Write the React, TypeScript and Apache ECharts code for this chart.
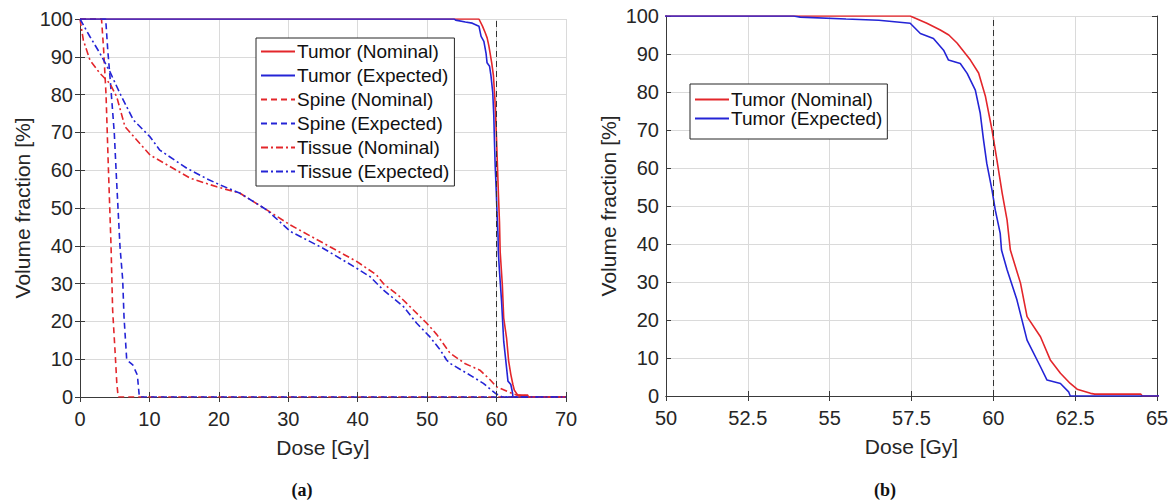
import React, { useEffect, useRef } from "react";
import * as echarts from "echarts";

// ---- Data (dose [Gy], volume fraction [%]) ----
const tumorNominal: number[][] = [
  [0, 100], [57.46, 100], [57.97, 98.1], [58.38, 96.3], [58.64, 95], [58.89, 92.9],
  [59.3, 88.4], [59.55, 85], [59.76, 78.8], [59.96, 70], [60.11, 62.1], [60.27, 53.4],
  [60.42, 46.3], [60.52, 38.4], [60.83, 29.7], [61.03, 20.9], [61.44, 15.6], [61.74, 9.5],
  [62.05, 6], [62.35, 3.3], [62.56, 1.8], [62.97, 0.7], [63.1, 0.5], [64.5, 0.5],
  [64.55, 0], [70, 0],
];
const tumorExpected: number[][] = [
  [0, 100], [53.9, 100], [54.1, 99.7], [55.5, 99.2], [56.5, 98.9], [57.46, 98.1],
  [57.77, 95.4], [58.17, 94.1], [58.48, 91], [58.63, 88.4], [58.99, 87.5], [59.2, 84.9],
  [59.45, 80.5], [59.6, 74.4], [59.7, 67.4], [59.8, 61.2], [59.96, 54.2], [60.06, 48.9],
  [60.21, 42.8], [60.25, 38.4], [60.42, 33.2], [60.72, 25.3], [61.03, 14.7], [61.44, 7.7],
  [61.64, 4.2], [62.05, 3.3], [62.3, 1.1], [62.35, 0], [70, 0],
];
const spineNominal: number[][] = [
  [0, 100], [3.1, 100], [3.4, 92], [3.75, 80], [4.08, 61], [4.47, 40], [4.7, 23],
  [5.04, 12.4], [5.3, 3.7], [5.5, 0], [70, 0],
];
const spineExpected: number[][] = [
  [0, 100], [3.7, 100], [3.99, 92], [4.32, 84.7], [4.94, 69.8], [5.29, 56.5], [5.76, 39.8],
  [6.15, 31], [6.34, 21.2], [6.73, 9.8], [7.6, 8.5], [8.26, 5.8], [8.55, 0], [70, 0],
];
const tissueNominal: number[][] = [
  [0, 100], [0.48, 94.4], [1.44, 89.1], [2.88, 85.6], [4.32, 82.9], [5.29, 79.4],
  [6.48, 71.5], [8.17, 68], [10.1, 64], [13.4, 60.5], [15.85, 57.9], [19.7, 55.6],
  [23.05, 53.9], [26.9, 49.5], [30.3, 45.5], [35.06, 40.7], [39.9, 35.8], [42.7, 32.3],
  [43.7, 30], [46.1, 26.5], [49.95, 19.5], [51.4, 16.5], [53.3, 11.6], [55.5, 8.8],
  [57.6, 7.1], [59.1, 4.5], [60, 2.7], [61.5, 1.5], [62.9, 0.5], [64.4, 0.3], [64.5, 0], [70, 0],
];
const tissueExpected: number[][] = [
  [0, 100], [1.44, 95.3], [2.88, 90.9], [4.32, 86], [5.76, 80.3], [7.68, 73.3],
  [10.1, 68.8], [11.5, 65.3], [15.4, 60.5], [18.3, 57.7], [20.2, 56.1], [23.05, 53.9],
  [26.9, 49.5], [30.3, 43.8], [35.06, 39.3], [39.9, 34], [41.8, 31.8], [43.7, 28.3],
  [46.6, 23.9], [48.5, 19.5], [50.4, 15.9], [51.9, 12.4], [52.8, 9.8], [53.3, 8.9],
  [55.7, 6.3], [58.1, 3.6], [59.8, 1], [60.8, 0], [70, 0],
];

const legendLeft = [
  "Tumor (Nominal)", "Tumor (Expected)", "Spine (Nominal)",
  "Spine (Expected)", "Tissue (Nominal)", "Tissue (Expected)",
];
const legendRight = ["Tumor (Nominal)", "Tumor (Expected)"];

const xRangeLeft = { min: 0, max: 70, interval: 10 };
const xRangeRight = { min: 50, max: 65, interval: 2.5 };
const yRange = { min: 0, max: 100, interval: 10 };
const prescribedDose = 60;

const RED = "#e3262b";
const BLUE = "#2424d6";
const AXIS = "#3a3a3a";
const FONT = "'Liberation Sans', Arial, Helvetica, sans-serif";

export default function App() {
  const ref = useRef<HTMLDivElement>(null);
  useEffect(() => {
    if (!ref.current) return;
    const chart = echarts.init(ref.current, undefined, { renderer: "svg" });

    const mkX = (r: any, gridIndex: number, top: boolean) => ({
      type: "value",
      gridIndex,
      position: top ? "top" : "bottom",
      min: r.min, max: r.max, interval: r.interval,
      name: top ? "" : "Dose [Gy]",
      nameLocation: "middle",
      nameGap: 40,
      nameTextStyle: { fontFamily: FONT, fontSize: 21, color: "#262626" },
      axisLine: { show: true, lineStyle: { color: AXIS, width: 1 } },
      axisTick: { show: true, inside: true, length: 5, lineStyle: { color: AXIS } },
      axisLabel: { show: !top, fontFamily: FONT, fontSize: 20, color: "#262626", margin: 12 },
      splitLine: { show: !top, lineStyle: { color: "#dadada", width: 1 } },
    });
    const mkY = (gridIndex: number, right: boolean) => ({
      type: "value",
      gridIndex,
      position: right ? "right" : "left",
      min: yRange.min, max: yRange.max, interval: yRange.interval,
      name: right ? "" : "Volume fraction [%]",
      nameLocation: "middle",
      nameGap: 47,
      nameTextStyle: { fontFamily: FONT, fontSize: 21, color: "#262626" },
      axisLine: { show: true, lineStyle: { color: AXIS, width: 1 } },
      axisTick: { show: true, inside: true, length: 5, lineStyle: { color: AXIS } },
      axisLabel: { show: !right, fontFamily: FONT, fontSize: 20, color: "#262626", margin: 7 },
      splitLine: { show: !right, lineStyle: { color: "#dadada", width: 1 } },
    });

    const vline = {
      silent: true,
      symbol: "none",
      label: { show: false },
      lineStyle: { type: [6, 4], color: "#333333", width: 1 },
      data: [{ xAxis: prescribedDose }],
    };

    const line = (name: string, data: number[][], color: string, type: any, xi: number, yi: number, mark?: any) => ({
      type: "line",
      name,
      data,
      xAxisIndex: xi,
      yAxisIndex: yi,
      symbol: "none",
      showSymbol: false,
      lineStyle: { color, width: 1.6, type },
      itemStyle: { color },
      markLine: mark,
      z: 3,
    });

    const dash = [6, 4];
    const dashDot = [7, 3, 2, 3];

    const legendCommon = {
      orient: "vertical",
      itemWidth: 34,
      itemHeight: 10,
      borderColor: "#262626",
      borderWidth: 1,
      backgroundColor: "#ffffff",
      borderRadius: 0,
      selectedMode: false,
      itemStyle: { opacity: 0, borderWidth: 0, color: "transparent" },
      textStyle: { fontFamily: FONT, fontSize: 19, color: "#111111", padding: [0, 0, 0, -3] },
    };

    chart.setOption({
      animation: false,
      grid: [
        { left: 80, top: 19, width: 486, height: 378, show: false },
        { left: 666, top: 16, width: 491, height: 380, show: false },
      ],
      xAxis: [mkX(xRangeLeft, 0, false), mkX(xRangeLeft, 0, true), mkX(xRangeRight, 1, false), mkX(xRangeRight, 1, true)],
      yAxis: [mkY(0, false), mkY(0, true), mkY(1, false), mkY(1, true)],
      legend: [
        {
          ...legendCommon,
          data: legendLeft,
          left: 256,
          top: 38,
          itemGap: 5,
          padding: [4, 5, 5, 4],
          textStyle: { ...legendCommon.textStyle, lineHeight: 19 },
        },
        {
          ...legendCommon,
          data: legendRight,
          left: 690,
          top: 84,
          itemGap: 0,
          padding: [6, 5, 11, 4],
          textStyle: { ...legendCommon.textStyle, lineHeight: 18 },
        },
      ],
      series: [
        line("Tumor (Nominal)", tumorNominal, RED, "solid", 0, 0, vline),
        line("Tumor (Expected)", tumorExpected, BLUE, "solid", 0, 0),
        line("Spine (Nominal)", spineNominal, RED, dash, 0, 0),
        line("Spine (Expected)", spineExpected, BLUE, dash, 0, 0),
        line("Tissue (Nominal)", tissueNominal, RED, dashDot, 0, 0),
        line("Tissue (Expected)", tissueExpected, BLUE, dashDot, 0, 0),
        line("Tumor (Nominal)", tumorNominal, RED, "solid", 2, 2, vline),
        line("Tumor (Expected)", tumorExpected, BLUE, "solid", 2, 2),
      ],
      graphic: [
        {
          type: "text",
          x: 302,
          y: 490,
          style: {
            text: "(a)",
            font: "bold 18px 'Liberation Serif', 'Times New Roman', serif",
            fill: "#111111",
            textAlign: "center",
            textVerticalAlign: "middle",
          },
        },
        {
          type: "text",
          x: 885,
          y: 490,
          style: {
            text: "(b)",
            font: "bold 18px 'Liberation Serif', 'Times New Roman', serif",
            fill: "#111111",
            textAlign: "center",
            textVerticalAlign: "middle",
          },
        },
      ],
    });
    return () => chart.dispose();
  }, []);
  return (
    <div
      ref={ref}
      style={{ position: "fixed", left: 0, top: 0, width: 1172, height: 504, background: "#ffffff" }}
    />
  );
}
